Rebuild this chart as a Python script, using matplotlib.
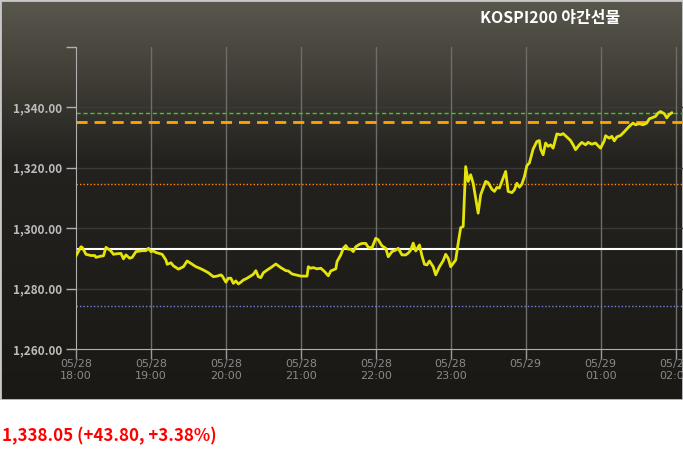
import numpy as np
import matplotlib
matplotlib.use('Agg')
import matplotlib.pyplot as plt
from matplotlib.patches import Rectangle

plt.rcParams['font.family'] = ['Noto Sans CJK KR', 'DejaVu Sans']

# minutes after 05/28 18:00
minutes = [0, 4, 5, 8, 12, 15, 16, 20, 22, 24, 28, 30, 33, 36, 38, 40, 43, 45, 48, 53,
           56, 58, 60, 62, 64, 69, 72, 73, 76, 78, 82, 86, 89, 92, 96, 99, 102, 106, 110, 113,
           116, 117, 120, 122, 124, 126, 128, 130, 132, 134, 137, 140, 142, 144, 146, 148, 150, 153, 156, 160,
           164, 168, 170, 173, 176, 180, 185, 186, 188, 190, 193, 196, 199, 202, 204, 208, 209, 212, 214, 216,
           218, 220, 222, 224, 227, 229, 232, 234, 237, 240, 242, 245, 248, 250, 253, 256, 258, 261, 264, 266,
           268, 270, 272, 275, 277, 279, 281, 283, 286, 288, 291, 294, 296, 298, 300, 302, 304, 306, 308, 310,
           312, 314, 316, 318, 320, 322, 324, 326, 328, 330, 333, 335, 337, 339, 342, 344, 346, 349, 351, 353,
           355, 357, 359, 361, 363, 366, 369, 371, 372, 374, 376, 378, 380, 382, 385, 388, 390, 393, 396, 398,
           400, 403, 405, 408, 410, 413, 416, 418, 420, 423, 424, 427, 429, 431, 433, 436, 438, 441, 443, 446,
           448, 451, 454, 457, 459, 461, 464, 466, 468, 471, 473, 475, 477]
prices = [1290.8, 1293.8, 1293.6, 1291.3, 1290.9, 1290.9, 1290.3, 1290.7, 1290.8, 1293.6,
          1292.4, 1291.3, 1291.5, 1291.6, 1289.8, 1291.1, 1290.0, 1290.3, 1292.2, 1292.5,
          1292.5, 1293.3, 1292.2, 1292.4, 1291.9, 1291.3, 1289.4, 1288.0, 1288.5, 1287.5,
          1286.4, 1287.2, 1289.1, 1288.3, 1287.2, 1286.7, 1286.1, 1285.2, 1283.9, 1284.1,
          1284.5, 1284.2, 1282.1, 1283.4, 1283.4, 1281.7, 1282.5, 1281.5, 1282.1, 1282.8,
          1283.4, 1284.2, 1284.7, 1285.9, 1283.9, 1283.6, 1285.2, 1286.1, 1286.9, 1288.1,
          1286.9, 1285.9, 1285.8, 1284.8, 1284.5, 1284.1, 1284.1, 1287.2, 1286.7, 1286.9,
          1286.5, 1286.7, 1285.6, 1284.2, 1285.8, 1286.5, 1288.9, 1291.1, 1293.3, 1294.2,
          1293.0, 1293.0, 1292.2, 1293.8, 1294.6, 1294.9, 1294.9, 1293.6, 1293.5, 1296.6,
          1296.1, 1294.1, 1293.3, 1290.5, 1292.2, 1292.7, 1293.3, 1291.1, 1291.1, 1291.7,
          1292.7, 1295.0, 1292.4, 1294.4, 1290.8, 1288.0, 1287.8, 1289.1, 1287.2, 1284.5,
          1287.2, 1289.2, 1291.3, 1290.0, 1287.2, 1288.3, 1289.4, 1295.0, 1300.1, 1300.5,
          1320.3, 1315.4, 1317.6, 1314.8, 1309.9, 1304.9, 1311.0, 1313.2, 1315.4, 1315.0,
          1312.8, 1312.1, 1313.4, 1313.2, 1316.5, 1318.7, 1312.1, 1311.7, 1312.6, 1314.8,
          1313.5, 1314.5, 1317.0, 1320.6, 1321.5, 1326.1, 1328.6, 1328.9, 1326.1, 1324.2,
          1328.1, 1327.0, 1327.5, 1326.4, 1331.1, 1330.8, 1331.2, 1330.1, 1328.9, 1327.5,
          1325.9, 1327.5, 1328.3, 1327.5, 1328.3, 1327.7, 1328.1, 1327.2, 1326.4, 1328.9,
          1330.5, 1329.7, 1330.3, 1328.8, 1330.1, 1330.6, 1331.4, 1332.7, 1333.6, 1334.7,
          1334.1, 1334.5, 1334.1, 1334.7, 1336.1, 1336.4, 1336.9, 1338.0, 1338.5, 1337.8,
          1336.4, 1337.5, 1338.05]

current = 1338.05
ref_dashed = 1335.0
ref_orange = 1314.5
prev_close = 1293.0
ref_blue = 1274.1

xtick_pos = [0, 60, 120, 180, 240, 300, 360, 420, 480]
xtick_labels = ['05/28\n18:00', '05/28\n19:00', '05/28\n20:00', '05/28\n21:00', '05/28\n22:00',
                '05/28\n23:00', '05/29', '05/29\n01:00', '05/29\n02:00']
ytick_pos = [1260, 1280, 1300, 1320, 1340, 1360]
ytick_labels = ['1,260.00', '1,280.00', '1,300.00', '1,320.00', '1,340.00', '']

fig = plt.figure(figsize=(6.83, 4.53), dpi=100)
fig.patch.set_facecolor('white')

# dark gradient panel
bg = fig.add_axes([0, 1 - 400 / 453, 1, 400 / 453])
top = np.array([90, 87, 77]) / 255
mid = np.array([36, 34, 30]) / 255
bot = np.array([27, 25, 21]) / 255
rows = np.linspace(0, 1, 200)
grad = np.zeros((200, 1, 3))
for i, r in enumerate(rows):
    if r < 0.4:
        c = top + (mid - top) * (r / 0.4)
    else:
        c = mid + (bot - mid) * ((r - 0.4) / 0.6)
    grad[i, 0] = c
bg.imshow(grad, aspect='auto', extent=[0, 1, 0, 1])
bg.add_patch(Rectangle((0, 0), 1, 1, fill=False, ec='#c8c8c8', lw=2, transform=bg.transAxes))
bg.set_xlim(0, 1)
bg.set_ylim(0, 1)
bg.axis('off')

ax = fig.add_axes([76 / 683, 1 - 349 / 453, 1 - 76 / 683, (349 - 46.5) / 453])
ax.patch.set_alpha(0)

for y in [1280, 1300, 1320, 1340]:
    ax.axhline(y, color='#3c3a36', lw=1, zorder=1)
for x in xtick_pos[1:]:
    ax.axvline(x, color='#6e6d6a', lw=1, zorder=1)

ax.axhline(current, color='#3ccc1e', lw=1, ls=(0, (3, 2)), zorder=2)
ax.axhline(ref_dashed, color='#ffa500', lw=2, ls=(0, (4, 2.5)), zorder=2)
ax.axhline(ref_orange, color='#ff8c00', lw=1, ls=(0, (1, 1.5)), zorder=2)
ax.axhline(prev_close, color='white', lw=1.5, zorder=2)
ax.axhline(ref_blue, color='#6f84d6', lw=1, ls=(0, (1, 1.5)), zorder=2)

ax.plot(minutes, prices, color='#e4e40a', lw=2, zorder=3)

ax.set_xlim(0, 486)
ax.set_ylim(1260, 1360)
ax.set_xticks(xtick_pos)
ax.set_xticklabels(xtick_labels, family='DejaVu Sans', linespacing=1.25)
ax.set_yticks(ytick_pos)
ax.set_yticklabels(ytick_labels, fontweight='bold')
ax.tick_params(axis='x', colors='#9a9a9a', length=7, width=1, pad=0, labelsize=8, labelcolor='#8a8a8a')
ax.tick_params(axis='y', colors='#b0b0b0', length=7, width=1, pad=3, labelsize=8.5, labelcolor='#bdbdbd')
for s in ['top', 'right']:
    ax.spines[s].set_visible(False)
ax.spines['left'].set_color('#b0b0b0')
ax.spines['bottom'].set_color('#b0b0b0')

fig.text(550 / 683, 1 - 18 / 453, 'KOSPI200 야간선물', color='white', fontsize=11.5,
         fontweight='bold', ha='center', va='center')
fig.text(2 / 683, 1 - 436 / 453, '1,338.05 (+43.80, +3.38%)', color='#ff0000', fontsize=12.2,
         fontweight='bold', ha='left', va='center')

fig.savefig('out.png', dpi=100)
